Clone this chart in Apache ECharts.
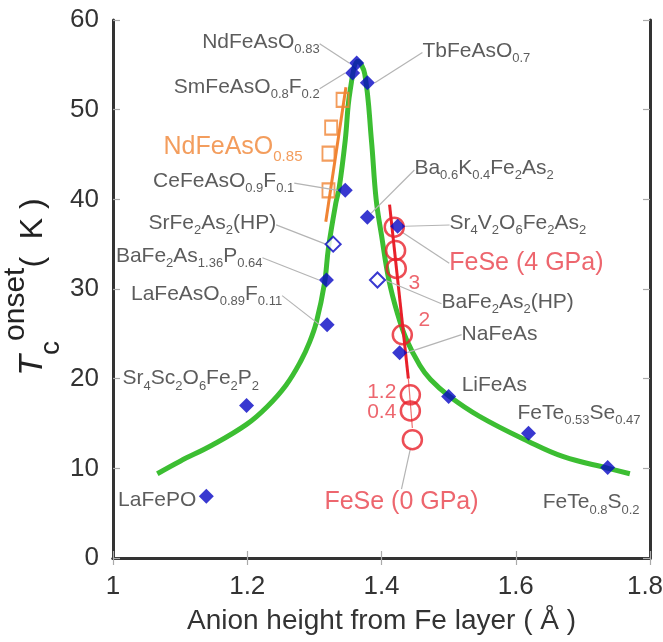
<!DOCTYPE html>
<html><head><meta charset="utf-8">
<script src="https://cdn.jsdelivr.net/npm/echarts@6/dist/echarts.min.js"></script>
<style>html,body{margin:0;padding:0;background:#fff}#c{width:663px;height:642px}</style>
</head><body><div id="c"></div>
<script>
// ---------------- data ----------------
const xTicks = [1, 1.2, 1.4, 1.6, 1.8];
const yTicks = [0, 10, 20, 30, 40, 50, 60];

// ambient-pressure compounds (filled diamonds)
const compounds = ['LaFePO', 'Sr4Sc2O6Fe2P2', 'LaFeAsO0.89F0.11', 'BaFe2As1.36P0.64', 'CeFeAsO0.9F0.1',
  'SmFeAsO0.8F0.2', 'NdFeAsO0.83', 'TbFeAsO0.7', 'Ba0.6K0.4Fe2As2', 'Sr4V2O6Fe2As2', 'NaFeAs',
  'LiFeAs', 'FeTe0.53Se0.47', 'FeTe0.8S0.2'];
const anionHeight = [1.139, 1.199, 1.319, 1.318, 1.346, 1.357, 1.363, 1.379, 1.379, 1.424, 1.427, 1.500, 1.619, 1.737];
const tcOnset = [6.9, 17.0, 26.0, 31.0, 41.0, 54.1, 55.2, 53.0, 38.0, 37.0, 22.9, 18.0, 13.9, 10.1];

// high-pressure compounds (open diamonds)
const hpCompounds = ['SrFe2As2(HP)', 'BaFe2As2(HP)'];
const hpHeight = [1.328, 1.394];
const hpTc = [35.0, 31.0];

// NdFeAsO0.85 (orange squares) and its trend line
const ndName = 'NdFeAsO0.85';
const ndHeight = [1.342, 1.325, 1.321, 1.321];
const ndTc = [51.1, 48.0, 45.1, 41.0];
const ndLineX = [1.317, 1.347];
const ndLineY = [37.5, 52.5];

// FeSe under pressure (red circles)
const feSeLabels = ['FeSe (4 GPa)', '', '3', '2', '1.2', '0.4', 'FeSe (0 GPa)'];
const feSeHeight = [1.419, 1.421, 1.422, 1.431, 1.443, 1.443, 1.446];
const feSeTc = [36.9, 34.3, 32.3, 24.9, 18.2, 16.4, 13.2];
const feSeLineX = [1.412, 1.440];
const feSeLineY = [39.4, 20.0];
const feSeThinX = [1.440, 1.446];
const feSeThinY = [20.0, 14.5];

// green guide curve
const curveX = [1.066, 1.100, 1.148, 1.199, 1.230, 1.258, 1.280, 1.293, 1.303, 1.315, 1.321, 1.332, 1.337, 1.346, 1.353, 1.365,
  1.375, 1.385, 1.392, 1.400, 1.411, 1.424, 1.437, 1.457, 1.473, 1.500, 1.546, 1.619, 1.671, 1.738, 1.770];
const curveY = [9.4, 10.8, 12.6, 14.9, 16.9, 19.3, 22.0, 24.1, 26.3, 30.6, 34.6, 39.6, 41.3, 46.6, 52.0, 55.4,
  54.0, 46.6, 40.0, 36.0, 31.0, 27.2, 24.4, 21.5, 19.9, 18.1, 15.8, 13.0, 11.3, 10.0, 9.4];

// ---------------- styling / label placement ----------------
const FONT = '"Liberation Sans", Arial, Helvetica, sans-serif';
const TEXT = '#333';
const LEAD = '#b4b4b4';
// [dx, dy, align, leader line] relative to the marker centre, in pixels
const placeMain = {
  'LaFePO': [-10, 4, 'right', false],
  'Sr4Sc2O6Fe2P2': [-124, -27, 'left', false],
  'LaFeAsO0.89F0.11': [-45, -31, 'right', true],
  'BaFe2As1.36P0.64': [-64, -24, 'right', true],
  'CeFeAsO0.9F0.1': [-51, -9, 'right', true],
  'SmFeAsO0.8F0.2': [-33, 14, 'right', true],
  'NdFeAsO0.83': [-37, -21, 'right', true],
  'TbFeAsO0.7': [55, -32, 'left', true],
  'Ba0.6K0.4Fe2As2': [47, -49, 'left', true],
  'Sr4V2O6Fe2As2': [52, -3, 'left', true],
  'NaFeAs': [62, -18, 'left', true],
  'LiFeAs': [13, -11, 'left', false],
  'FeTe0.53Se0.47': [-11, -20, 'left', false],
  'FeTe0.8S0.2': [-65, 35, 'left', false]
};
const placeHp = [[-57, -21, 'right', true], [64, 22, 'left', true]];
const placeNd = [null, null, [-26, -6, 'right', false], null];
const placeFeSe = [[55, 36, 'left', true], null, [18, 15, 'center', false], [22, -15, 'center', false],
  [-14, -3, 'right', false], [-14, 1, 'right', false], [-88, 62, 'left', true]];

function chem(name, m, s) {
  return name.split(/(\d+(?:\.\d+)?)/).filter(t => t !== '')
    .map(t => /^\d/.test(t) ? '{' + s + '|' + t + '}' : '{' + m + '|' + t + '}').join('');
}
function richPair(base, sub, color) {
  const L = Math.round(base * 1.35);
  const c = L / 2 + 0.35 * base + 0.36 * base - 0.35 * sub;
  const h = Math.max(2, 2 * (L - c));
  return {
    m: { fontSize: base, lineHeight: L, color: color, fontFamily: FONT },
    s: { fontSize: sub, lineHeight: h, verticalAlign: 'bottom', color: color, fontFamily: FONT }
  };
}
function layoutFrom(getPlace) {
  return function (p) {
    const o = getPlace(p.dataIndex);
    if (!o) return {};
    const cx = p.rect.x + p.rect.width / 2, cy = p.rect.y + p.rect.height / 2;
    return { x: cx + o[0], y: cy + o[1], align: o[2], verticalAlign: 'middle' };
  };
}
const leadStyle = { show: true, length2: 0, lineStyle: { color: LEAD, width: 1.2 } };

const mainData = compounds.map((n, i) => ({
  value: [anionHeight[i], tcOnset[i]], name: n,
  labelLine: { show: placeMain[n][3] }
}));
const hpData = hpCompounds.map((n, i) => ({
  value: [hpHeight[i], hpTc[i]], name: n, labelLine: { show: placeHp[i][3] }
}));
const ndData = ndHeight.map((x, i) => ({
  value: [x, ndTc[i]], label: { show: !!placeNd[i] }, labelLine: { show: false }
}));
const feSeData = feSeHeight.map((x, i) => ({
  value: [x, feSeTc[i]], label: { show: !!placeFeSe[i] },
  labelLine: { show: !!(placeFeSe[i] && placeFeSe[i][3]) }
}));
const curveData = curveX.map((x, i) => [x, curveY[i]]);
const ndLine = ndLineX.map((x, i) => [x, ndLineY[i]]);
const feSeLine = feSeLineX.map((x, i) => [x, feSeLineY[i]]);
const feSeThin = feSeThinX.map((x, i) => [x, feSeThinY[i]]);

const BLUE = '#0606c4', GREEN = '#3cbe32', ORANGE = '#f08434', RED = '#e8202a', REDTXT = '#e8404a';

const chart = echarts.init(document.getElementById('c'), null, { renderer: 'canvas' });
const axisLine = { show: true, lineStyle: { color: '#333', width: 3 } };
const tick = { show: true, inside: true, length: 7, lineStyle: { color: '#aaa', width: 1.2 } };
const xMax = xTicks[xTicks.length - 1];
chart.setOption({
  animation: false,
  backgroundColor: '#fff',
  grid: { left: 113, right: 13, top: 20, bottom: 84, containLabel: false, outerBoundsMode: 'none' },
  xAxis: [{
    type: 'value', min: xTicks[0], max: xMax, interval: 0.2, position: 'bottom',
    axisLine: axisLine, axisTick: tick, splitLine: { show: false },
    axisLabel: { fontSize: 26, color: TEXT, fontFamily: FONT, margin: 16,
      formatter: v => Math.abs(v - xMax) < 1e-9 ? '{r|' + v + '}' : '{n|' + v + '}',
      rich: { n: { fontSize: 26, color: TEXT, fontFamily: FONT },
              r: { fontSize: 26, color: TEXT, fontFamily: FONT, padding: [0, 10, 0, 0] } } },
    name: 'Anion height from Fe layer ( Å )', nameLocation: 'middle', nameGap: 49, nameMoveOverlap: false,
    nameTextStyle: { fontSize: 28, color: TEXT, fontFamily: FONT }
  }, {
    type: 'value', min: xTicks[0], max: xMax, interval: 0.2, position: 'top',
    axisLine: axisLine, axisTick: tick, splitLine: { show: false }, axisLabel: { show: false }
  }],
  yAxis: [{
    type: 'value', min: yTicks[0], max: yTicks[yTicks.length - 1], interval: 10, position: 'left',
    axisLine: axisLine, axisTick: tick, splitLine: { show: false },
    axisLabel: { fontSize: 26, color: TEXT, fontFamily: FONT, margin: 14 },
    name: '{t|T}{c|c}{o|onset}{k|(  K )}', nameLocation: 'middle', nameRotate: 90, nameGap: 48,
    nameMoveOverlap: false,
    nameTextStyle: {
      padding: [0, 0, 0, 4],
      rich: {
        t: { fontSize: 34, fontStyle: 'italic', lineHeight: 64, color: '#222', fontFamily: FONT },
        c: { fontSize: 28, lineHeight: 26, verticalAlign: 'bottom', color: '#222', fontFamily: FONT },
        o: { fontSize: 30, lineHeight: 58, verticalAlign: 'top', color: '#222', fontFamily: FONT },
        k: { fontSize: 32, lineHeight: 64, color: '#222', fontFamily: FONT }
      }
    }
  }, {
    type: 'value', min: yTicks[0], max: yTicks[yTicks.length - 1], interval: 10, position: 'right',
    axisLine: axisLine, axisTick: tick, splitLine: { show: false }, axisLabel: { show: false }
  }],
  series: [
    { type: 'line', name: 'guide', data: curveData, smooth: 0.4, symbol: 'none', z: 2,
      lineStyle: { color: GREEN, width: 5 } },
    { type: 'line', name: 'ndTrend', data: ndLine, symbol: 'none', z: 3,
      lineStyle: { color: ORANGE, width: 3 } },
    { type: 'scatter', name: ndName, data: ndData, symbol: 'rect', symbolSize: [12, 14], z: 4,
      itemStyle: { color: 'rgba(255,255,255,0)', borderColor: ORANGE, borderWidth: 2 },
      label: { show: true, formatter: () => chem(ndName, 'm', 's'), rich: richPair(25, 15, ORANGE) },
      labelLayout: layoutFrom(i => placeNd[i]) },
    { type: 'line', name: 'feSeTrend', data: feSeLine, symbol: 'none', z: 5,
      lineStyle: { color: RED, width: 3 } },
    { type: 'line', name: 'feSeThin', data: feSeThin, symbol: 'none', z: 5,
      lineStyle: { color: '#f07070', width: 1.2 } },
    { type: 'scatter', name: 'FeSe', data: feSeData, symbol: 'circle', symbolSize: 19, z: 6,
      itemStyle: { color: 'rgba(255,255,255,0)', borderColor: RED, borderWidth: 2.5 },
      label: { show: true, formatter: p => {
          const t = feSeLabels[p.dataIndex];
          return t.indexOf('FeSe') === 0 ? '{b|' + t + '}' : '{n|' + t + '}';
        },
        rich: { b: { fontSize: 25, color: REDTXT, fontFamily: FONT },
                n: { fontSize: 21, color: REDTXT, fontFamily: FONT } } },
      labelLine: leadStyle,
      labelLayout: layoutFrom(i => placeFeSe[i]) },
    { type: 'scatter', name: 'Tc', data: mainData, symbol: 'diamond', symbolSize: 15, z: 8,
      itemStyle: { color: BLUE },
      label: { show: true, formatter: p => chem(compounds[p.dataIndex], 'm', 's'), rich: richPair(21, 13, TEXT) },
      labelLine: leadStyle,
      labelLayout: layoutFrom(i => placeMain[compounds[i]]) },
    { type: 'scatter', name: 'Tc (HP)', data: hpData, symbol: 'diamond', symbolSize: 15, z: 8,
      itemStyle: { color: '#fff', borderColor: BLUE, borderWidth: 2 },
      label: { show: true, formatter: p => chem(hpCompounds[p.dataIndex], 'm', 's'), rich: richPair(21, 13, TEXT) },
      labelLine: leadStyle,
      labelLayout: layoutFrom(i => placeHp[i]) }
  ]
});
</script>
</body></html>
